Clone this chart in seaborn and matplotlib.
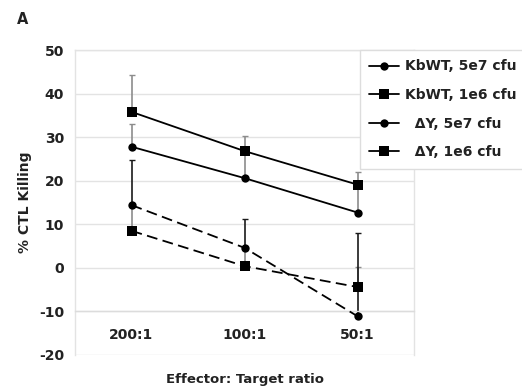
import matplotlib
matplotlib.use("Agg")
import matplotlib.pyplot as plt
from matplotlib.lines import Line2D
import seaborn as sns
import pandas as pd
import numpy as np

categories = ["200:1", "100:1", "50:1"]
series_names = ["KbWT, 5e7 cfu", "KbWT, 1e6 cfu", "ΔY, 5e7 cfu", "ΔY, 1e6 cfu"]
kbwt_5e7 = [27.8, 20.6, 12.7]
kbwt_1e6 = [35.8, 26.8, 19.1]
dy_5e7 = [14.4, 4.6, -11.1]
dy_1e6 = [8.5, 0.4, -4.4]
err_kbwt_5e7 = [5.3, 6.0, 6.0]
err_kbwt_1e6 = [8.5, 3.4, 2.9]
err_dy_5e7 = [10.3, 6.5, 19.0]
err_dy_1e6 = [5.9, 4.2, 4.6]

sns.set_theme(style="white")
plt.rcParams["font.family"] = ["DejaVu Sans"]
plt.rcParams["axes.unicode_minus"] = False

fig = plt.figure(figsize=(5.22, 3.89), dpi=100)
ax = fig.add_axes([75/522, 1-355/389, (414-75)/522, (355-50)/389])

values = [kbwt_5e7, kbwt_1e6, dy_5e7, dy_1e6]
errs = [err_kbwt_5e7, err_kbwt_1e6, err_dy_5e7, err_dy_1e6]
markers = ["o", "s", "o", "s"]
msizes = [6, 7, 6, 7]
lstyles = ["-", "-", (0, (6, 3)), (0, (6, 3))]
ecolors = ["#8c8c8c", "#8c8c8c", "#1a1a1a", "#8c8c8c"]
ezorder = [2, 2, 2.5, 2]

xpos = np.arange(len(categories))
rows = []
for name, vals in zip(series_names, values):
    for i, v in enumerate(vals):
        rows.append({"series": name, "x": xpos[i], "y": v})
df = pd.DataFrame(rows)

# error bars (upper only)
for name, vals, e, ec, zo in zip(series_names, values, errs, ecolors, ezorder):
    ax.errorbar(xpos, vals, yerr=[np.zeros(len(e)), e], fmt="none",
                ecolor=ec, elinewidth=1.2, capsize=2, capthick=1, zorder=zo)

for name, m, ms, ls in zip(series_names, markers, msizes, lstyles):
    sub = df[df["series"] == name]
    sns.lineplot(data=sub, x="x", y="y", ax=ax, color="black", lw=1.3,
                 linestyle=ls, marker=m, markersize=ms, markeredgewidth=0,
                 legend=False, zorder=3, errorbar=None)

ax.set_xlim(-0.5, 2.5)
ax.set_ylim(-20, 50)
ax.set_yticks(np.arange(-20, 51, 10))
ax.set_xticks(xpos)
ax.set_xticklabels(categories)
ax.set_xticks([0.5, 1.5], minor=True)
ax.yaxis.grid(True, color="#e3e3e3", lw=1)
ax.set_axisbelow(True)

for s in ["top", "left", "right"]:
    ax.spines[s].set_color("#e3e3e3")
    ax.spines[s].set_linewidth(1)
ax.spines["bottom"].set_position(("data", -10))
ax.spines["bottom"].set_color("#dcdcdc")
ax.spines["bottom"].set_linewidth(1)

ax.tick_params(axis="x", which="major", length=0, pad=12, labelsize=10)
ax.tick_params(axis="x", which="minor", length=3, color="#c8c8c8", direction="out", width=1)
ax.tick_params(axis="y", length=0, pad=8, labelsize=10)
for lab in ax.get_xticklabels() + ax.get_yticklabels():
    lab.set_fontweight("bold")
    lab.set_color("#222222")

ax.set_xlabel("")
ax.set_ylabel("")
fig.text(244.5/522, 1-380/389, "Effector: Target ratio", ha="center", va="center",
         fontsize=9.5, fontweight="bold", color="#222222")
fig.text(25/522, 1-202/389, "% CTL Killing", ha="center", va="center", rotation=90,
         fontsize=10, fontweight="bold", color="#222222")
fig.text(17/522, 1-19/389, "A", ha="left", va="center", fontsize=10.5,
         fontweight="bold", color="#222222")

handles = [Line2D([0], [0], color="black", lw=1.3, marker=m, markersize=ms,
                  markeredgewidth=0) for m, ms in zip(markers, msizes)]
labels = ["KbWT, 5e7 cfu", "KbWT, 1e6 cfu", "  ΔY, 5e7 cfu", "  ΔY, 1e6 cfu"]
leg = fig.legend(handles, labels, loc="upper left",
                 bbox_to_anchor=(360/522, 1-50/389), frameon=True, fancybox=False,
                 framealpha=1, edgecolor="#dddddd", borderpad=0.68, borderaxespad=0,
                 labelspacing=1.05, handlelength=2.1, handletextpad=0.45,
                 prop={"weight": "bold", "size": 10})
leg.get_frame().set_linewidth(1)
for t in leg.get_texts():
    t.set_color("#222222")

fig.savefig("out.png", dpi=100)
